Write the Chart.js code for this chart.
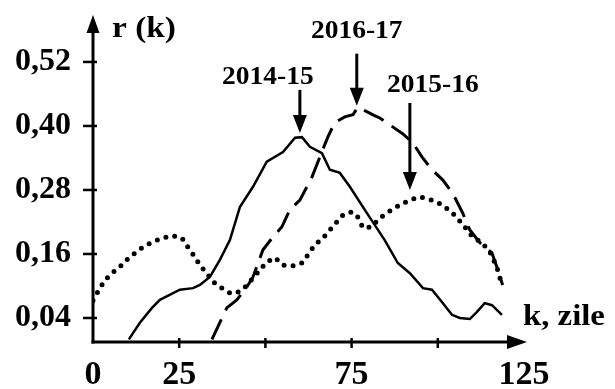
<!DOCTYPE html>
<html>
<head>
<meta charset="utf-8">
<script src="https://cdn.jsdelivr.net/npm/chart.js@4/dist/chart.umd.min.js"></script>
<style>
  body { margin: 0; background: #fff; }
  #wrap { width: 615px; height: 389px; position: relative; }
</style>
</head>
<body>
<div id="wrap"><canvas id="rk"></canvas></div>
<script>
// r(k) per sezon, k in zile
const k1415 = [10.4, 13.6, 17.1, 19.4, 25.2, 29.0, 31.0, 33.9, 36.8, 39.7, 42.6, 46.4, 50.4, 55.1, 58.6, 60.6, 62.9, 66.4, 68.7, 71.6, 74.5, 79.4, 84.6, 88.4, 91.9, 95.7, 98.3, 101.2, 104.1, 106.4, 109.3, 111.3, 113.6, 115.7, 118.6];
const r1415 = [0, 0.031, 0.059, 0.074, 0.093, 0.096, 0.102, 0.117, 0.149, 0.186, 0.248, 0.286, 0.333, 0.351, 0.378, 0.379, 0.361, 0.349, 0.318, 0.312, 0.286, 0.237, 0.186, 0.143, 0.124, 0.096, 0.093, 0.070, 0.046, 0.040, 0.038, 0.051, 0.068, 0.064, 0.046];

const k1516 = [0, 2.0, 3.5, 5.5, 7.8, 10.1, 12.2, 14.5, 17.4, 20.3, 23.2, 25.8, 27.5, 29.6, 31.0, 33.0, 34.8, 37.4, 39.7, 41.7, 44.1, 46.4, 48.4, 50.4, 52.8, 55.1, 58.0, 60.6, 62.3, 64.3, 66.7, 68.7, 70.7, 72.5, 75.1, 76.8, 78.3, 80.9, 82.6, 85.2, 89.0, 91.9, 94.8, 98.3, 101.4, 104.9, 107.8, 110.1, 112.8, 115.1, 117.1, 118.6];
const r1516 = [0.073, 0.096, 0.111, 0.124, 0.136, 0.151, 0.162, 0.173, 0.183, 0.190, 0.194, 0.190, 0.173, 0.154, 0.139, 0.124, 0.108, 0.096, 0.087, 0.087, 0.098, 0.115, 0.130, 0.145, 0.153, 0.139, 0.138, 0.143, 0.158, 0.177, 0.190, 0.205, 0.220, 0.233, 0.239, 0.229, 0.209, 0.211, 0.224, 0.237, 0.252, 0.261, 0.267, 0.261, 0.252, 0.233, 0.211, 0.192, 0.181, 0.164, 0.136, 0.102];

const k1617 = [34.5, 38.8, 41.7, 44.6, 46.4, 49.3, 52.2, 54.8, 57.1, 60.0, 63.5, 65.8, 68.1, 70.1, 73.0, 75.4, 76.8, 79.4, 81.5, 83.2, 86.1, 89.9, 92.8, 95.4, 98.3, 101.4, 104.3, 107.2, 109.3, 112.2, 115.7, 117.1, 118.8];
const r1617 = [0, 0.059, 0.074, 0.098, 0.117, 0.168, 0.192, 0.211, 0.243, 0.261, 0.304, 0.342, 0.379, 0.406, 0.417, 0.421, 0.435, 0.427, 0.420, 0.415, 0.402, 0.385, 0.368, 0.342, 0.318, 0.299, 0.274, 0.237, 0.205, 0.181, 0.162, 0.136, 0.102];

const rTicks = [0.04, 0.16, 0.28, 0.40, 0.52];
const kTicks = [0, 25, 50, 75, 100, 125];
const kLabels = ['0', '25', '', '75', '', '125'];

// sagetile care marcheaza maximul fiecarui sezon
const seasons = ['2014-15', '2016-17', '2015-16'];
const peakK = [60.0, 76.5, 91.9];
const peakR = [0.387, 0.438, 0.280];

const pts = (ks, rs) => ks.map((k, i) => ({ x: k, y: rs[i] }));
const serif = '"Liberation Serif", "Times New Roman", serif';

function stretchText(ctx, txt, x, y, size, align, sx) {
  ctx.save();
  ctx.font = 'bold ' + size + 'px ' + serif;
  ctx.textAlign = align;
  ctx.textBaseline = 'alphabetic';
  ctx.translate(x, y);
  ctx.scale(sx, 1);
  ctx.fillText(txt, 0, 0);
  ctx.restore();
}

// fara padding automat de la etichete, zona graficului ramane fixa
function noPad(s) {
  s.paddingTop = 0;
  s.paddingBottom = 0;
  s.paddingLeft = 0;
  s.paddingRight = 0;
}

const axesPlugin = {
  id: 'axesPlugin',
  afterDraw(chart) {
    const { ctx, scales: { x, y } } = chart;
    const x0 = x.getPixelForValue(0);
    const y0 = y.bottom;
    ctx.save();
    ctx.strokeStyle = '#000';
    ctx.fillStyle = '#000';
    ctx.lineWidth = 3;
    ctx.lineCap = 'butt';

    // axa r
    ctx.beginPath();
    ctx.moveTo(x0, y0 + 1.5);
    ctx.lineTo(x0, y.top + 12);
    ctx.stroke();
    ctx.beginPath();
    ctx.moveTo(x0, y.top);
    ctx.lineTo(x0 - 6.5, y.top + 18);
    ctx.lineTo(x0 + 6.5, y.top + 18);
    ctx.closePath();
    ctx.fill();

    // axa k
    const xEnd = x.right + 3;
    ctx.beginPath();
    ctx.moveTo(x0 - 1.5, y0);
    ctx.lineTo(xEnd - 14, y0);
    ctx.stroke();
    ctx.beginPath();
    ctx.moveTo(xEnd, y0);
    ctx.lineTo(xEnd - 20, y0 - 7);
    ctx.lineTo(xEnd - 20, y0 + 7);
    ctx.closePath();
    ctx.fill();

    // gradatii
    ctx.lineWidth = 2.5;
    rTicks.forEach(v => {
      const py = y.getPixelForValue(v);
      ctx.beginPath();
      ctx.moveTo(x0 - 10, py);
      ctx.lineTo(x0 + 4, py);
      ctx.stroke();
    });
    kTicks.slice(1, -1).forEach(v => {
      const px = x.getPixelForValue(v);
      ctx.beginPath();
      ctx.moveTo(px, y0 - 4);
      ctx.lineTo(px, y0 + 6);
      ctx.stroke();
    });

    // titluri axe
    stretchText(ctx, 'r (k)', x0 + 19, y.top + 22, 29, 'left', 1.15);
    stretchText(ctx, 'k, zile', x.right - 1, y0 - 17, 29, 'left', 1.13);

    // sageti si etichete
    const arrowLen = [43, 52, 87];
    const labelDx = [-32, 0, 23];
    const labelGap = [6, 16, 11];
    seasons.forEach((s, i) => {
      const px = x.getPixelForValue(peakK[i]);
      const tip = y.getPixelForValue(peakR[i]);
      const tail = tip - arrowLen[i];
      ctx.lineWidth = 3;
      ctx.beginPath();
      ctx.moveTo(px, tail);
      ctx.lineTo(px, tip - 12);
      ctx.stroke();
      ctx.beginPath();
      ctx.moveTo(px, tip);
      ctx.lineTo(px - 7, tip - 18);
      ctx.lineTo(px + 7, tip - 18);
      ctx.closePath();
      ctx.fill();
      stretchText(ctx, s, px + labelDx[i], tail - labelGap[i], 25, 'center', 1.1);
    });
    ctx.restore();
  }
};

new Chart(document.getElementById('rk'), {
  type: 'line',
  data: {
    datasets: [
      {
        label: '2014-15',
        data: pts(k1415, r1415),
        borderColor: '#000',
        borderWidth: 2.5,
        pointRadius: 0,
        tension: 0
      },
      {
        label: '2015-16',
        data: pts(k1516, r1516),
        borderColor: '#000',
        borderWidth: 5,
        borderDash: [0, 9],
        borderCapStyle: 'round',
        pointRadius: 0,
        tension: 0
      },
      {
        label: '2016-17',
        data: pts(k1617, r1617),
        borderColor: '#000',
        borderWidth: 3,
        borderDash: [22, 10],
        pointRadius: 0,
        tension: 0
      }
    ]
  },
  options: {
    responsive: true,
    maintainAspectRatio: false,
    animation: false,
    layout: { padding: { top: 15, right: 91, left: 0, bottom: 0 } },
    plugins: { legend: { display: false }, tooltip: { enabled: false } },
    scales: {
      x: {
        type: 'linear',
        min: 0,
        max: 125,
        afterBuildTicks: s => { s.ticks = kTicks.map(v => ({ value: v })); },
        afterFit: s => { s.height = 47; noPad(s); },
        grid: { display: false, drawTicks: false },
        border: { display: false },
        ticks: {
          autoSkip: false,
          maxRotation: 0,
          padding: 13,
          color: '#000',
          font: { family: serif, weight: 'bold', size: 34 },
          callback: (v, i) => kLabels[i]
        }
      },
      y: {
        min: -0.005,
        max: 0.608,
        afterBuildTicks: s => { s.ticks = rTicks.map(v => ({ value: v })); },
        afterFit: s => { s.width = 93; noPad(s); },
        grid: { display: false, drawTicks: false },
        border: { display: false },
        ticks: {
          padding: 22,
          color: '#000',
          font: { family: serif, weight: 'bold', size: 32 },
          callback: v => v.toFixed(2).replace('.', ',')
        }
      }
    }
  },
  plugins: [axesPlugin]
});
</script>
</body>
</html>
